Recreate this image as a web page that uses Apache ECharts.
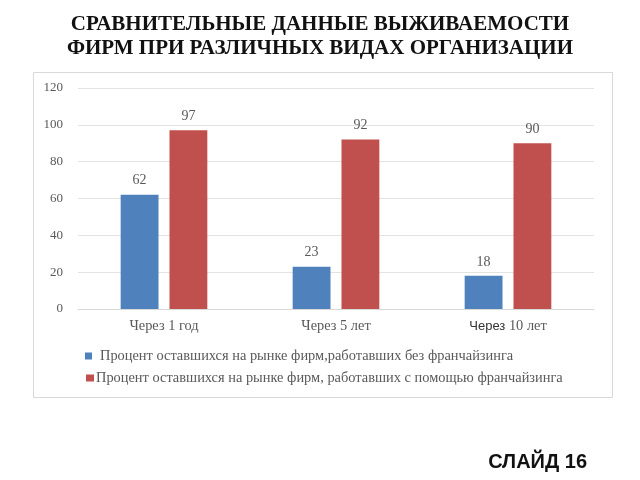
<!DOCTYPE html>
<html><head><meta charset="utf-8">
<script src="https://cdn.jsdelivr.net/npm/echarts@6/dist/echarts.min.js"></script>
<style>html,body{margin:0;padding:0;background:#fff}#c{width:640px;height:480px}</style>
</head><body><div id="c"></div>
<script>
var categories = ['Через 1 год', 'Через 5 лет', 'Через 10 лет'];
var seriesNames = ['Процент оставшихся на рынке фирм,работавших без франчайзинга', 'Процент оставшихся на рынке фирм, работавших с помощью франчайзинга'];
var withoutFranchise = [62, 23, 18];
var withFranchise = [97, 92, 90];
var yTicks = [0, 20, 40, 60, 80, 100, 120];

var chart = echarts.init(document.getElementById('c'));
var serif = '"Liberation Serif", "DejaVu Serif", serif';
var lblColor = '#595959';
chart.setOption({
  animation: false,
  backgroundColor: '#fff',
  title: {
    text: 'СРАВНИТЕЛЬНЫЕ ДАННЫЕ ВЫЖИВАЕМОСТИ\nФИРМ ПРИ РАЗЛИЧНЫХ ВИДАХ ОРГАНИЗАЦИИ',
    left: 'center', top: 8,
    textStyle: { fontFamily: serif, fontWeight: 'bold', fontSize: 21, color: '#111', lineHeight: 24 }
  },
  graphic: [
    { type: 'rect', shape: { x: 33.5, y: 72.5, width: 579, height: 325 }, style: { fill: 'none', stroke: '#d9d9d9', lineWidth: 1 }, z: -1 },
    { type: 'text', right: 53, top: 452, style: { text: 'СЛАЙД 16', font: 'bold 20px "Liberation Sans", Arial, sans-serif', fill: '#111' } }
  ],
  legend: [
    { orient: 'vertical', left: 80, top: 344, icon: 'rect', itemWidth: 7, itemHeight: 7,
      textStyle: { fontFamily: serif, fontSize: 14.4, color: lblColor, padding: [0, 0, 0, 3] },
      data: [seriesNames[0]] },
    { orient: 'vertical', left: 81, top: 366, icon: 'rect', itemWidth: 8, itemHeight: 7,
      textStyle: { fontFamily: serif, fontSize: 14.4, color: lblColor, padding: [0, 0, 0, -3] },
      data: [seriesNames[1]] }
  ],
  grid: { left: 78, right: 46, top: 88, bottom: 171 },
  xAxis: {
    type: 'category', data: categories,
    axisLine: { lineStyle: { color: '#d9d9d9' } },
    axisTick: { show: false },
    axisLabel: {
      margin: 10, fontFamily: serif, fontSize: 14.4, color: lblColor,
      formatter: function (v) { return v === 'Через 10 лет' ? '{s|Через} 10 лет' : v; },
      rich: { s: { fontFamily: '"Liberation Sans", Arial, sans-serif', fontSize: 13, color: '#333' } }
    }
  },
  yAxis: {
    type: 'value', min: 0, max: 120, interval: 20,
    axisLine: { show: false }, axisTick: { show: false },
    splitLine: { lineStyle: { color: '#e3e3e3' } },
    axisLabel: { margin: 15, fontFamily: serif, fontSize: 13, color: lblColor,
      formatter: function (v) { return yTicks.indexOf(v) >= 0 ? String(v) : ''; } }
  },
  series: [
    { name: seriesNames[0], type: 'bar', data: withoutFranchise, barWidth: '22%', barGap: '29%',
      itemStyle: { color: '#4F81BD' },
      label: { show: true, position: 'top', distance: 7, fontFamily: serif, fontSize: 14, color: lblColor } },
    { name: seriesNames[1], type: 'bar', data: withFranchise, barWidth: '22%', barGap: '29%',
      itemStyle: { color: '#C0504D' },
      label: { show: true, position: 'top', distance: 7, fontFamily: serif, fontSize: 14, color: lblColor } }
  ]
});
</script></body></html>
